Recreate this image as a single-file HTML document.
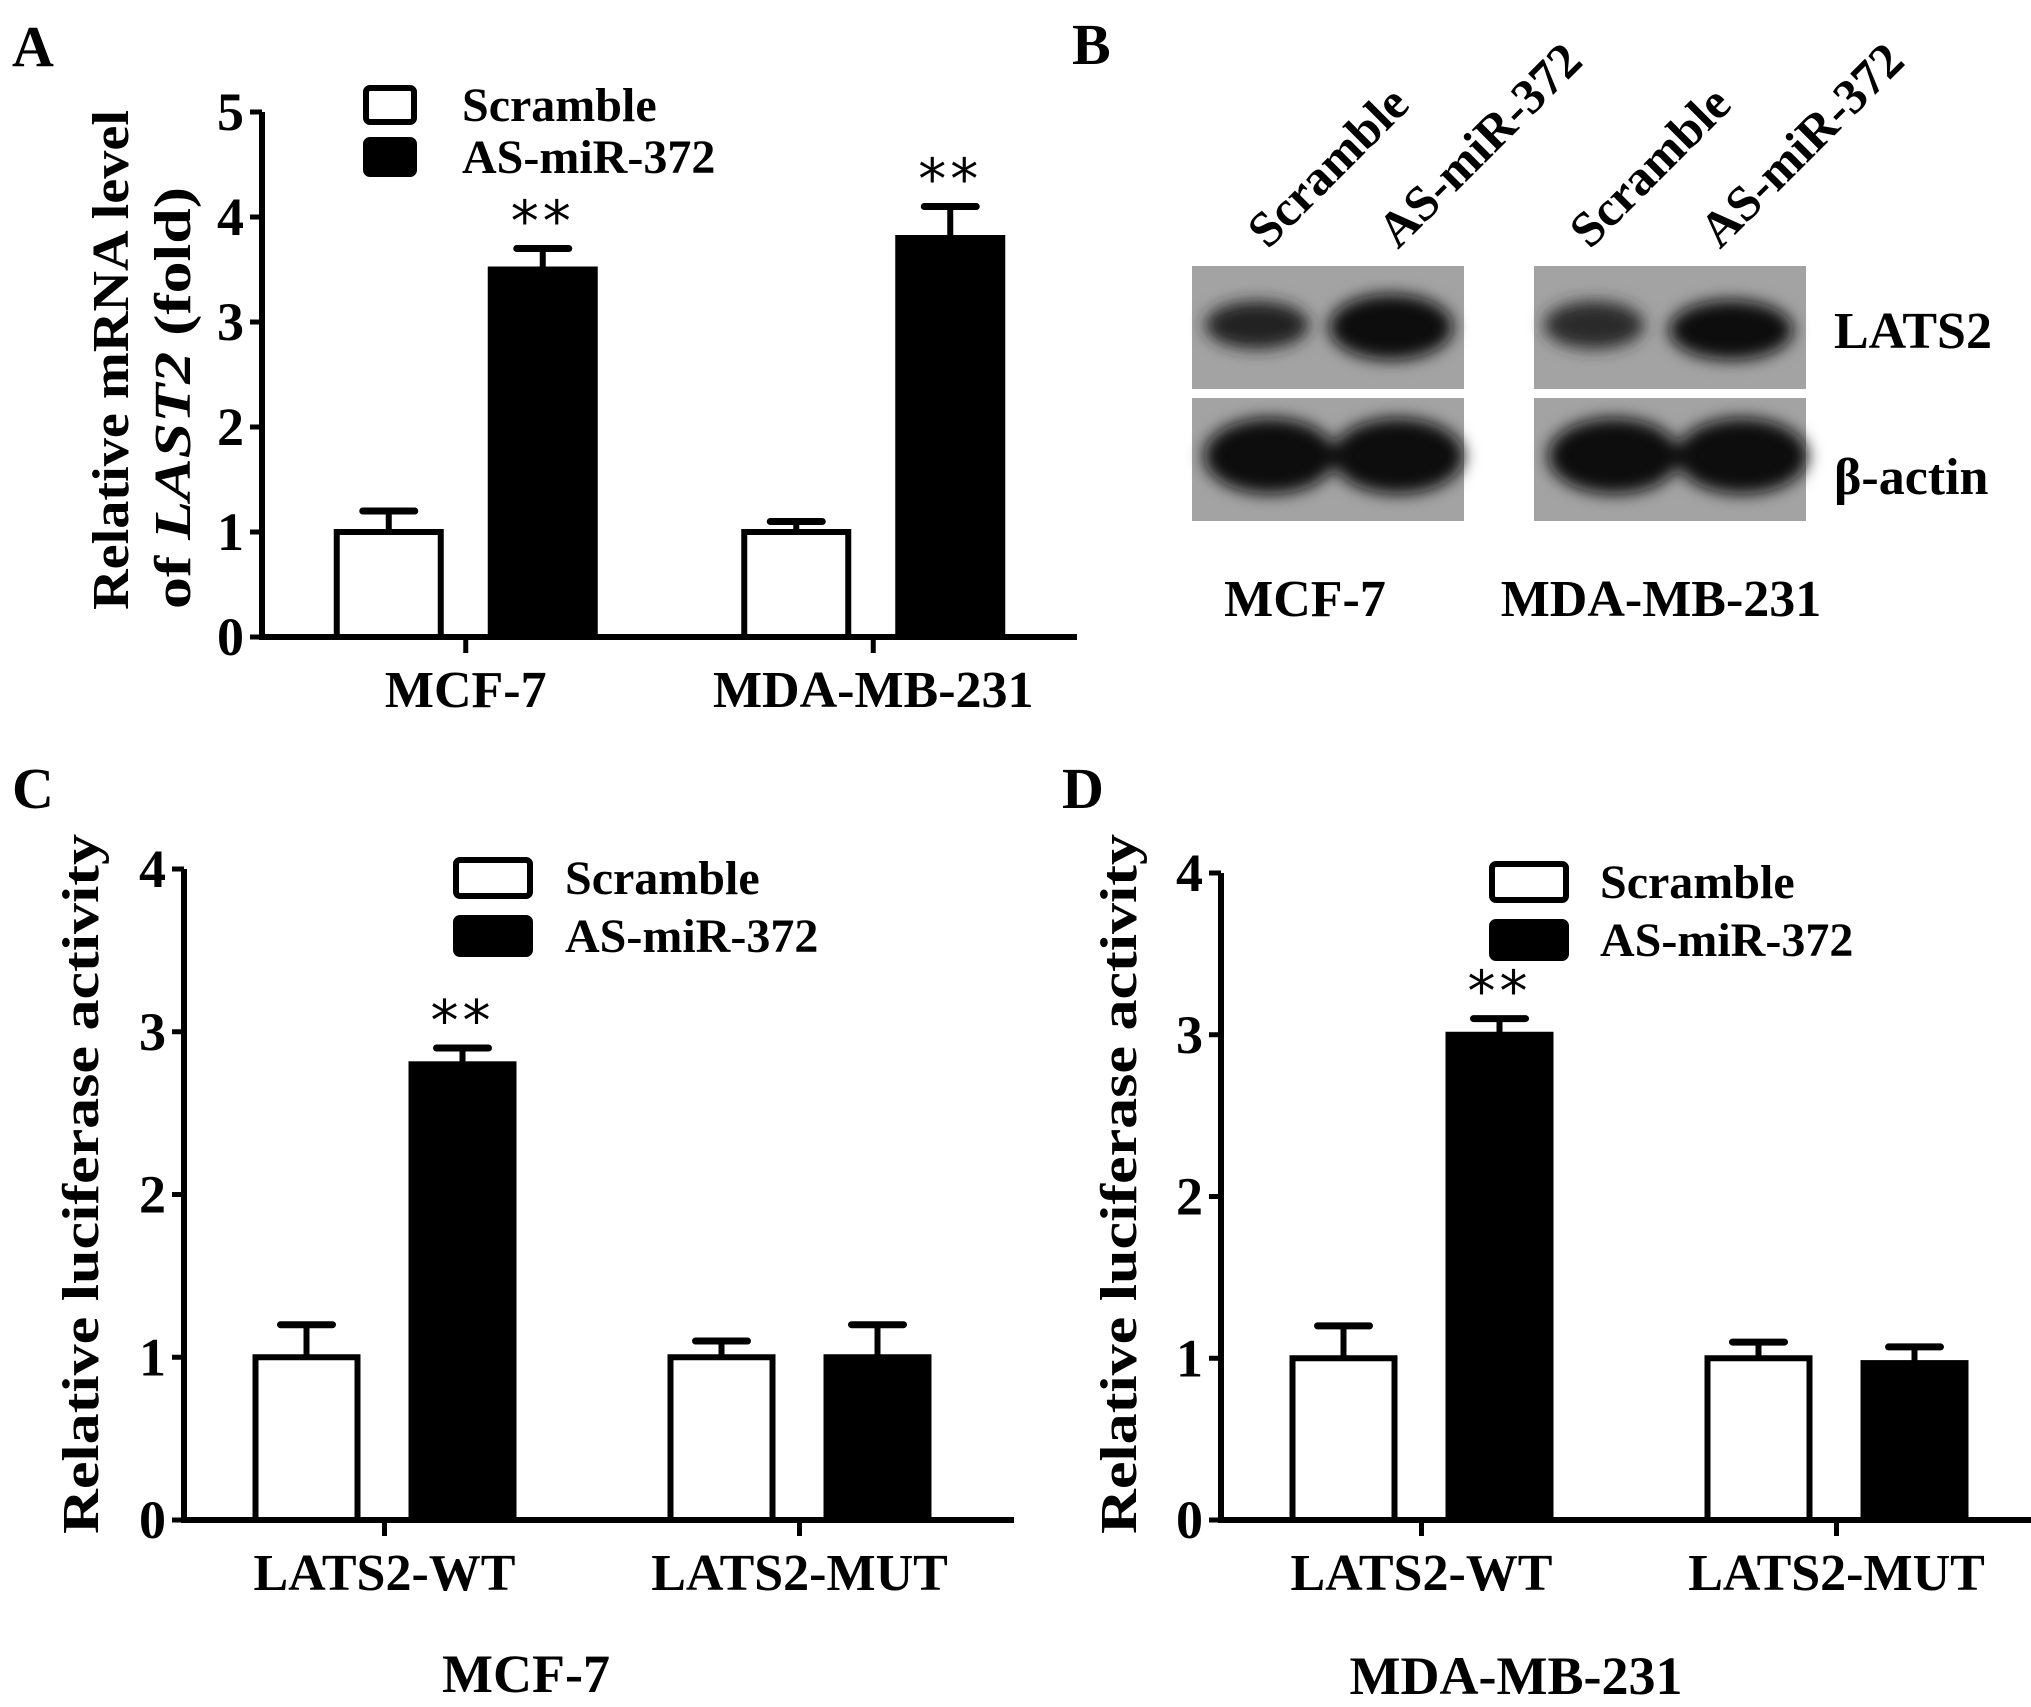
<!DOCTYPE html>
<html><head><meta charset="utf-8"><style>
html,body{margin:0;padding:0;background:#fff;}
svg{display:block;font-family:"Liberation Serif",serif;font-weight:bold;}
</style></head><body>
<svg id="fig" width="2031" height="1707" viewBox="0 0 2031 1707">
<defs><filter id="blur" x="-30%" y="-60%" width="160%" height="220%"><feGaussianBlur stdDeviation="8"/></filter></defs>
<g font-size="58">
<text x="12" y="66">A</text>
<text x="1072" y="64">B</text>
<text x="12" y="808">C</text>
<text x="1062" y="808">D</text>
</g>
<g id="panelA"></g>
<g id="panelC"></g>
<g id="panelD"></g>
<g>
<g font-size="50">
<text transform="translate(1268,250) rotate(-45)">Scramble</text>
<text transform="translate(1398,250) rotate(-45)">AS-miR-372</text>
<text transform="translate(1590,250) rotate(-45)">Scramble</text>
<text transform="translate(1720,250) rotate(-45)">AS-miR-372</text>
</g>
<rect x="1192" y="266" width="272" height="123" fill="#a3a3a3"/>
<rect x="1192" y="398" width="272" height="123" fill="#a3a3a3"/>
<rect x="1534" y="266" width="272" height="123" fill="#a3a3a3"/>
<rect x="1534" y="398" width="272" height="123" fill="#a3a3a3"/>
<g filter="url(#blur)">
<ellipse cx="1257" cy="325" rx="52" ry="24" fill="#222"/>
<ellipse cx="1391" cy="327" rx="62" ry="33" fill="#0a0a0a"/>
<ellipse cx="1594" cy="325" rx="50" ry="24" fill="#2a2a2a"/>
<ellipse cx="1731" cy="330" rx="62" ry="30" fill="#0d0d0d"/>
<ellipse cx="1270" cy="456" rx="66" ry="38" fill="#0a0a0a"/>
<ellipse cx="1398" cy="456" rx="66" ry="38" fill="#0a0a0a"/>
<ellipse cx="1614" cy="456" rx="66" ry="38" fill="#0a0a0a"/>
<ellipse cx="1742" cy="456" rx="66" ry="38" fill="#0a0a0a"/>
</g>
<text x="1834" y="348" font-size="52">LATS2</text>
<text x="1834" y="494" font-size="52">β-actin</text>
<text x="1305" y="616" font-size="52" text-anchor="middle">MCF-7</text>
<text x="1661" y="616" font-size="52" text-anchor="middle">MDA-MB-231</text>
</g>
</svg>
<script>
// Panel A data
const aCategories = ["MCF-7", "MDA-MB-231"];
const aScramble = [1.0, 1.0];
const aScrambleErr = [0.2, 0.1];
const aAS = [3.5, 3.8];
const aASErr = [0.2, 0.3];
const aTicks = [0, 1, 2, 3, 4, 5];
// Panel C data
const cCategories = ["LATS2-WT", "LATS2-MUT"];
const cScramble = [1.0, 1.0];
const cScrambleErr = [0.2, 0.1];
const cAS = [2.8, 1.0];
const cASErr = [0.1, 0.2];
const cTicks = [0, 1, 2, 3, 4];
// Panel D data
const dCategories = ["LATS2-WT", "LATS2-MUT"];
const dScramble = [1.0, 1.0];
const dScrambleErr = [0.2, 0.1];
const dAS = [3.0, 0.97];
const dASErr = [0.1, 0.1];
const dTicks = [0, 1, 2, 3, 4];

const NS = "http://www.w3.org/2000/svg";
function mk(parent, tag, attrs, txt) {
  const e = document.createElementNS(NS, tag);
  for (const k in attrs) e.setAttribute(k, attrs[k]);
  if (txt !== undefined) e.textContent = txt;
  parent.appendChild(e);
  return e;
}

function drawChart(cfg) {
  const g = document.getElementById(cfg.id);
  const yMax = cfg.ticks[cfg.ticks.length - 1];
  const y = v => cfg.y0 - (v / yMax) * (cfg.y0 - cfg.yTop);
  const groupW = (cfg.xEnd - cfg.x0) / cfg.categories.length;
  const barW = cfg.barW;
  let e = mk(g, "line", {x1: cfg.x0, y1: cfg.yTop, x2: cfg.x0, y2: cfg.y0, stroke: "#000", "stroke-width": 6});
  
  
  e = mk(g, "line", {x1: cfg.x0 - 3, y1: cfg.y0, x2: cfg.xEnd, y2: cfg.y0, stroke: "#000", "stroke-width": 6});
  
  
  cfg.ticks.forEach(t => {
    const l = mk(g, "line", {x1: cfg.x0 - 12, y1: y(t), x2: cfg.x0, y2: y(t), stroke: "#000", "stroke-width": 5});
    
    
    const tx = mk(g, "text", {x: cfg.x0 - 18, y: y(t) + 18, "font-size": 54, "text-anchor": "end"}, String(t));
    
    
  });
  cfg.categories.forEach((c, i) => {
    const cx = cfg.x0 + groupW * (i + 0.5) + cfg.shift;
    const tk = mk(g, "line", {x1: cx, y1: cfg.y0, x2: cx, y2: cfg.y0 + 16, stroke: "#000", "stroke-width": 5});
    
    
    const lb = mk(g, "text", {x: cx, y: cfg.y0 + 70, "font-size": 52, "text-anchor": "middle"}, c);
    
    
    const series = [[cfg.scr[i], cfg.scrErr[i], "#fff", "bar-scramble"], [cfg.as[i], cfg.asErr[i], "#000", "bar-as-mir-372"]];
    series.forEach((s, j) => {
      const bx = cx + (j === 0 ? -cfg.gap / 2 - barW : cfg.gap / 2);
      const mid = bx + barW / 2;
      const eb = mk(g, "line", {x1: mid, y1: y(s[0]), x2: mid, y2: y(s[0] + s[1]), stroke: "#000", "stroke-width": 6});
      
      
      const cap = mk(g, "line", {x1: mid - 26, y1: y(s[0] + s[1]), x2: mid + 26, y2: y(s[0] + s[1]), stroke: "#000", "stroke-width": 7, "stroke-linecap": "round"});
      
      
      const r = mk(g, "rect", {x: bx + 3, y: y(s[0]), width: barW - 6, height: y(0) - y(s[0]), fill: s[2], stroke: "#000", "stroke-width": 6});
      
      
      if (j === 1 && cfg.sig[i]) {
        const st = mk(g, "text", {x: mid, y: y(s[0] + s[1]) - 8, "font-size": 56, "font-weight": "normal", "text-anchor": "middle", "letter-spacing": "4", "font-family": "DejaVu Sans, sans-serif"}, "**");
        
        
      }
    });
  });
  const L = cfg.legend;
  const b1 = mk(g, "rect", {x: L.x, y: L.y, width: L.w, height: L.h, rx: 4, fill: "#fff", stroke: "#000", "stroke-width": 6});
  
  
  const b2 = mk(g, "rect", {x: L.x, y: L.y + L.dy, width: L.w, height: L.h, rx: 4, fill: "#000", stroke: "#000", "stroke-width": 6});
  
  
  const t1 = mk(g, "text", {x: L.tx, y: L.y + L.h / 2 + 16, "font-size": 48}, "Scramble");
  
  
  const t2 = mk(g, "text", {x: L.tx, y: L.y + L.dy + L.h / 2 + 16, "font-size": 48}, "AS-miR-372");
  
  
  cfg.ytitle.forEach((line) => {
    const t = mk(g, "text", {transform: "translate(" + line.x + "," + line.cy + ") rotate(-90)", "font-size": 52, "text-anchor": "middle", textLength: line.len, lengthAdjust: "spacingAndGlyphs"});
    
    
    line.parts.forEach(p => { mk(t, "tspan", p.it ? {"font-style": "italic"} : {}, p.t); });
  });
  if (cfg.sub) {
    const s = mk(g, "text", {x: cfg.sub.x, y: cfg.sub.y, "font-size": 54, "text-anchor": "middle"}, cfg.sub.t);
    
    
  }
}

drawChart({id: "panelA", x0: 262, xEnd: 1077, y0: 637, yTop: 112, ticks: aTicks, categories: aCategories,
  scr: aScramble, scrErr: aScrambleErr, as: aAS, asErr: aASErr, sig: [true, true], barW: 110, gap: 44, shift: 0,
  legend: {x: 366, y: 88, w: 48, h: 34, dy: 52, tx: 462},
  ytitle: [{x: 128, cy: 360, len: 500, parts: [{t: "Relative mRNA level"}]},
           {x: 190, cy: 398, len: 422, parts: [{t: "of "}, {t: "LAST2", it: true}, {t: " (fold)"}]}]});

drawChart({id: "panelC", x0: 184, xEnd: 1014, y0: 1520, yTop: 869, ticks: cTicks, categories: cCategories,
  scr: cScramble, scrErr: cScrambleErr, as: cAS, asErr: cASErr, sig: [true, false], barW: 108, gap: 48, shift: -7,
  legend: {x: 456, y: 860, w: 74, h: 36, dy: 58, tx: 565},
  ytitle: [{x: 98, cy: 1184, len: 700, parts: [{t: "Relative luciferase activity"}]}],
  sub: {x: 526, y: 1692, t: "MCF-7"}});

drawChart({id: "panelD", x0: 1221, xEnd: 2051, y0: 1520, yTop: 873, ticks: dTicks, categories: dCategories,
  scr: dScramble, scrErr: dScrambleErr, as: dAS, asErr: dASErr, sig: [true, false], barW: 108, gap: 48, shift: -7,
  legend: {x: 1492, y: 864, w: 74, h: 36, dy: 58, tx: 1600},
  ytitle: [{x: 1136, cy: 1184, len: 700, parts: [{t: "Relative luciferase activity"}]}],
  sub: {x: 1516, y: 1694, t: "MDA-MB-231"}});
</script>
</body></html>
